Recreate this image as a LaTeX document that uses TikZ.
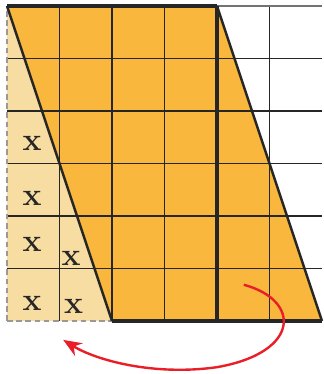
\documentclass[tikz,border=0pt]{standalone}
\usepackage{tikz}
\usetikzlibrary{arrows.meta}
\usepackage{xcolor}
\definecolor{orangefill}{RGB}{249,183,62}
\definecolor{lightfill}{RGB}{248,221,162}
\definecolor{arrowred}{RGB}{234,30,40}
\begin{document}
\begin{tikzpicture}[
  gridline/.style={line width=0.8pt, black!85},
  edge/.style={line width=1.3pt, black!85},
  thickedge/.style={line width=2pt, black!85},
  faint/.style={line width=0.6pt, black!40, densely dashed},
  xlabel/.style={font=\LARGE\bfseries, inner sep=0pt, black!85},
  arrow/.style={-{Stealth[length=10pt,width=8pt]}, line width=1.3pt, arrowred}
]
\useasboundingbox (-0.133,-1.01) rectangle (6.02,6.114);
% shapes
\fill[lightfill] (0,6) -- (2,0) -- (0,0) -- cycle;
\fill[orangefill] (0,6) -- (4,6) -- (6,0) -- (2,0) -- cycle;
% grid
\foreach \x in {1,2,3,5}
  \draw[gridline] (\x,0) -- (\x,6);
\foreach \y in {1,...,5}
  \draw[gridline] (0,\y) -- (6,\y);
\draw[gridline, black!55] (4,6) -- (6,6);
% outlines
\draw[faint] (0,0) -- (0,6);
\draw[faint] (0,0) -- (2,0);
\draw[edge] (0,6) -- (2,0);
\draw[edge] (4,6) -- (6,0);
\draw[thickedge] (0,6) -- (4,6);
\draw[thickedge] (4,0) -- (4,6);
\draw[thickedge] (2,0) -- (6,0);
% labels
\node[xlabel] (x1) at (0.48,3.39) {x};
\node[xlabel] (x2) at (0.48,2.34) {x};
\node[xlabel] (x3) at (0.48,1.45) {x};
\node[xlabel] (x4) at (0.48,0.33) {x};
\node[xlabel] (x5) at (1.22,1.2) {x};
\node[xlabel] (x6) at (1.27,0.27) {x};
% arrow
\coordinate (from) at (4.51,0.69);
\coordinate (to) at (1.07,-0.36);
\draw[arrow] (from) .. controls (5.6,0.4) and (5.6,-0.6) .. (4.0,-0.88)
  .. controls (2.8,-1.05) and (1.7,-0.75) .. (to);
\end{tikzpicture}
\end{document}
